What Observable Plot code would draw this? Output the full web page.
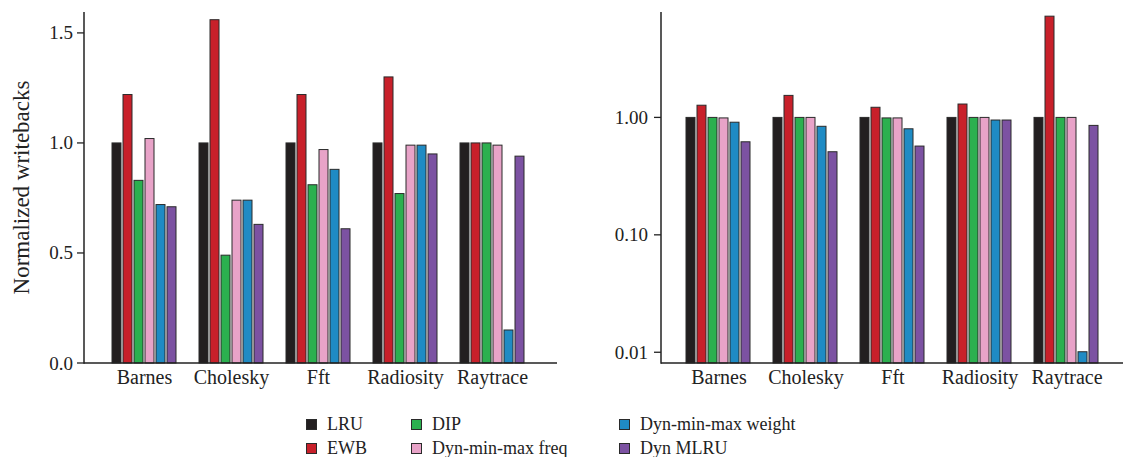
<!DOCTYPE html>
<html>
<head>
<meta charset="utf-8">
<script src="https://cdn.jsdelivr.net/npm/d3@7"></script>
<script src="https://cdn.jsdelivr.net/npm/@observablehq/plot@0.6"></script>
<style>
  body { margin: 0; background: #fff; font-family: "Liberation Serif", serif; color: #222; }
  #wrap { position: relative; width: 1123px; height: 457px; overflow: hidden; }
  #left { position: absolute; left: 0; top: 0; }
  #right { position: absolute; left: 560px; top: 0; }
  #legend { position: absolute; left: 306px; top: 412px; display: grid;
            grid-template-columns: 105px 208px auto; grid-auto-rows: 24px; font-size: 18px; }
  .item { display: flex; align-items: center; white-space: nowrap; }
  .sw { width: 9px; height: 9px; border: 1px solid #2a2a2a; margin-right: 10px; }
</style>
</head>
<body>
<div id="wrap">
  <div id="left"></div>
  <div id="right"></div>
  <div id="legend"></div>
</div>
<script>
// ---- data ----
const benchmarks = ["Barnes", "Cholesky", "Fft", "Radiosity", "Raytrace"];
const policies = ["LRU", "EWB", "DIP", "Dyn-min-max freq", "Dyn-min-max weight", "Dyn MLRU"];
const colors = ["#231f20", "#c8202a", "#2bb04f", "#e8a3c8", "#1f8bc4", "#7c52a2"];

// left panel (linear), one array per policy, values per benchmark
const linLRU    = [1.00, 1.00, 1.00, 1.00, 1.00];
const linEWB    = [1.22, 1.56, 1.22, 1.30, 1.00];
const linDIP    = [0.83, 0.49, 0.81, 0.77, 1.00];
const linFreq   = [1.02, 0.74, 0.97, 0.99, 0.99];
const linWeight = [0.72, 0.74, 0.88, 0.99, 0.15];
const linMLRU   = [0.71, 0.63, 0.61, 0.95, 0.94];

// right panel (log), one array per policy
const logLRU    = [1.00, 1.00, 1.00, 1.00, 1.00];
const logEWB    = [1.27, 1.54, 1.22, 1.30, 7.28];
const logDIP    = [1.00, 1.00, 0.99, 1.00, 1.00];
const logFreq   = [0.99, 1.00, 0.99, 1.00, 1.00];
const logWeight = [0.91, 0.84, 0.80, 0.95, 0.0101];
const logMLRU   = [0.62, 0.51, 0.57, 0.95, 0.855];

const linTicks = [0, 0.5, 1, 1.5];
const logTicks = [0.01, 0.1, 1];
const yLabel = "Normalized writebacks";

// ---- build tables ----
function rows(series) {
  const out = [];
  benchmarks.forEach((b, i) => {
    policies.forEach((p, j) => out.push({bench: b, policy: p, value: series[j][i]}));
  });
  return out;
}
const linRows = rows([linLRU, linEWB, linDIP, linFreq, linWeight, linMLRU]);
const logRows = rows([logLRU, logEWB, logDIP, logFreq, logWeight, logMLRU]);

const font = {fontFamily: "Liberation Serif", fontSize: "20px", color: "#222", background: "transparent", overflow: "visible"};
const barStyle = {stroke: "#2a2a2a", strokeWidth: 1};
const H = 400, MT = 12, MB = 37;

// ---- left ----
const leftW = 560, leftML = 84, leftMR = 3;
const left = Plot.plot({
  width: leftW, height: H, marginLeft: leftML, marginRight: leftMR, marginTop: MT, marginBottom: MB,
  style: font,
  fx: {domain: benchmarks, paddingInner: 0.244, paddingOuter: 0.331, align: 0.45, label: null, tickSize: 0, tickPadding: 6, axis: "bottom"},
  x: {domain: policies, paddingInner: 0.15, paddingOuter: 0, axis: null},
  y: {domain: [0, 1.595], axis: null},
  color: {domain: policies, range: colors},
  marks: [
    Plot.barY(linRows, {fx: "bench", x: "policy", y: "value", fill: "policy", ...barStyle})
  ]
});
document.getElementById("left").appendChild(left);

// ---- right ----
const rightW = 563, rightML = 101, rightMR = 0;
const logFloor = 0.0081;
const right = Plot.plot({
  width: rightW, height: H, marginLeft: rightML, marginRight: rightMR, marginTop: MT, marginBottom: MB,
  style: font,
  fx: {domain: benchmarks, paddingInner: 0.233, paddingOuter: 0.26, align: 0.5, label: null, tickSize: 0, tickPadding: 6, axis: "bottom"},
  x: {domain: policies, paddingInner: 0.15, paddingOuter: 0, axis: null},
  y: {type: "log", domain: [logFloor, 7.9], axis: null},
  color: {domain: policies, range: colors},
  marks: [
    Plot.barY(logRows, {fx: "bench", x: "policy", y1: logFloor, y2: "value", fill: "policy", ...barStyle})
  ]
});
document.getElementById("right").appendChild(right);

// ---- axes drawn from the plots' own y scales ----
function drawAxes(plot, ml, w, mr, ticks, fmt, pad) {
  const svg = d3.select(plot);
  const ys = plot.scale("y");
  const yr = ys.range;
  const bottom = Math.max(...yr), top = Math.min(...yr);
  const g = svg.append("g");
  g.append("line").attr("x1", ml).attr("x2", ml).attr("y1", top).attr("y2", bottom + 0.75)
     .attr("stroke", "#222").attr("stroke-width", 1.5);
  g.append("line").attr("x1", ml).attr("x2", w - mr).attr("y1", bottom).attr("y2", bottom)
     .attr("stroke", "#222").attr("stroke-width", 1.5);
  ticks.forEach(t => {
    const y = ys.apply(t);
    g.append("line").attr("x1", ml - 7).attr("x2", ml).attr("y1", y).attr("y2", y)
      .attr("stroke", "#222").attr("stroke-width", 1.3);
    g.append("text").attr("x", ml - 7 - pad).attr("y", y)
      .attr("text-anchor", "end").attr("dominant-baseline", "central")
      .attr("fill", "#222").style("font-size", "19px").text(fmt(t));
  });
  return {top, bottom};
}
const lf = drawAxes(left, leftML, leftW, leftMR, linTicks, d3.format(".1f"), 4);
drawAxes(right, rightML, rightW, rightMR, logTicks, d3.format(".2f"), 6);
d3.select(left).append("text")
  .attr("transform", `translate(21,${(lf.top + lf.bottom) / 2}) rotate(-90)`)
  .attr("text-anchor", "middle").attr("dominant-baseline", "central")
  .attr("fill", "#222").style("font-size", "23px").text(yLabel);

// ---- legend ----
const order = [0, 2, 4, 1, 3, 5];
const legend = d3.select("#legend");
order.forEach(i => {
  const it = legend.append("div").attr("class", "item");
  it.append("div").attr("class", "sw").style("background", colors[i]);
  it.append("span").text(policies[i]);
});
</script>
</body>
</html>
